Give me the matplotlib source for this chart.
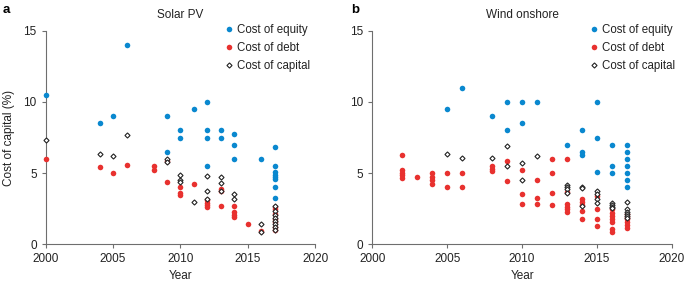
import matplotlib
matplotlib.use("Agg")
import matplotlib.pyplot as plt

plt.rcParams['font.family'] = ['Liberation Sans', 'DejaVu Sans']

# Colours
blue = '#0a88cf'
red = '#e8312f'
axis_grey = '#6e6e6e'

# Solar PV data
solar_equity_years = [2000, 2004, 2005, 2006, 2009, 2009, 2010, 2010, 2011, 2012, 2012, 2012, 2012,
                      2013, 2013, 2014, 2014, 2014, 2016,
                      2017, 2017, 2017, 2017, 2017, 2017, 2017, 2017]
solar_equity = [10.5, 8.5, 9.0, 14.0, 9.0, 6.5, 8.0, 7.5, 9.5, 10.0, 8.0, 7.5, 5.5,
                8.0, 7.5, 7.75, 7.0, 6.0, 6.0,
                6.8, 5.5, 5.05, 4.9, 4.75, 4.6, 4.0, 3.25]

solar_debt_years = [2000, 2004, 2005, 2006, 2008, 2008, 2009, 2009, 2010, 2010, 2010, 2011,
                    2012, 2012, 2012, 2012, 2013, 2013, 2013, 2014, 2014, 2014, 2014,
                    2015, 2016, 2017, 2017, 2017, 2017, 2017, 2017, 2017]
solar_debt = [6.0, 5.45, 5.0, 5.6, 5.5, 5.2, 5.85, 4.4, 4.0, 3.6, 3.45, 4.25,
              3.1, 2.9, 2.75, 2.6, 3.9, 3.75, 2.68, 2.68, 2.25, 2.05, 1.9,
              1.4, 0.95, 2.6, 2.45, 2.1, 1.8, 1.55, 1.25, 1.0]

solar_capital_years = [2000, 2004, 2005, 2006, 2009, 2009, 2010, 2010, 2010, 2011,
                       2012, 2012, 2012, 2013, 2013, 2013, 2014, 2014, 2016, 2016,
                       2017, 2017, 2017, 2017, 2017, 2017, 2017, 2017]
solar_capital = [7.35, 6.35, 6.2, 7.7, 6.0, 5.75, 4.9, 4.5, 4.35, 3.0,
                 4.8, 3.72, 3.18, 4.72, 4.28, 3.75, 3.53, 3.18, 1.45, 0.85,
                 2.7, 2.35, 2.05, 1.85, 1.65, 1.45, 1.2, 1.0]

# Wind onshore data
wind_equity_years = [2005, 2006, 2008, 2009, 2009, 2010, 2010, 2011, 2013, 2014, 2014, 2014,
                     2015, 2015, 2015, 2016, 2016, 2016,
                     2017, 2017, 2017, 2017, 2017, 2017, 2017]
wind_equity = [9.5, 11.0, 9.0, 10.0, 8.0, 10.0, 8.5, 10.0, 7.0, 8.0, 6.5, 6.3,
               10.0, 7.5, 5.1, 7.0, 5.5, 5.0,
               7.0, 6.5, 6.0, 5.5, 5.0, 4.5, 4.0]

wind_debt_years = [2002, 2002, 2002, 2002, 2002, 2003, 2004, 2004, 2004, 2004,
                   2005, 2005, 2006, 2006, 2008, 2008, 2008, 2009, 2009,
                   2010, 2010, 2010, 2011, 2011, 2011, 2012, 2012, 2012, 2012,
                   2013, 2013, 2013, 2013, 2013, 2013, 2014, 2014, 2014, 2014, 2014,
                   2015, 2015, 2015, 2015,
                   2016, 2016, 2016, 2016, 2016, 2016, 2016,
                   2017, 2017, 2017, 2017, 2017, 2017]
wind_debt = [6.3, 5.2, 5.0, 4.85, 4.65, 4.75, 5.0, 4.75, 4.5, 4.27,
             5.0, 4.0, 5.0, 4.0, 5.5, 5.3, 5.15, 5.87, 4.42,
             5.25, 3.5, 2.8, 4.5, 3.25, 2.8, 6.0, 5.0, 3.58, 2.75,
             6.0, 3.65, 2.85, 2.65, 2.45, 2.25, 3.2, 2.95, 2.75, 2.35, 1.75,
             3.4, 2.5, 1.75, 1.3,
             2.45, 2.2, 2.0, 1.8, 1.6, 1.05, 0.85,
             2.15, 1.95, 1.75, 1.55, 1.35, 1.15]

wind_capital_years = [2005, 2006, 2008, 2009, 2009, 2010, 2010, 2011,
                      2013, 2013, 2013, 2013, 2014, 2014, 2014,
                      2015, 2015, 2015, 2015, 2016, 2016, 2016, 2016,
                      2017, 2017, 2017, 2017, 2017, 2017]
wind_capital = [6.37, 6.05, 6.05, 6.93, 5.52, 5.73, 4.52, 6.18,
                4.2, 4.03, 3.86, 3.62, 4.03, 3.95, 2.72,
                3.75, 3.5, 3.2, 2.87, 2.88, 2.76, 2.64, 2.52,
                3.0, 2.47, 2.3, 2.15, 2.0, 1.87]

x_ticks = [2000, 2005, 2010, 2015, 2020]
y_ticks = [0, 5, 10, 15]

fig = plt.figure(figsize=(6.85, 2.83), dpi=100)
ax1 = fig.add_axes([0.0667, 0.1367, 0.3936, 0.7548])
ax2 = fig.add_axes([0.5436, 0.1367, 0.4372, 0.7548])

panels = [
    (ax1, 'Solar PV', solar_equity_years, solar_equity, solar_debt_years, solar_debt,
     solar_capital_years, solar_capital, 0.662),
    (ax2, 'Wind onshore', wind_equity_years, wind_equity, wind_debt_years, wind_debt,
     wind_capital_years, wind_capital, 0.724),
]

for ax, title, ey, ev, dy, dv, cy, cv, leg_x in panels:
    ax.plot(ey, ev, 'o', color=blue, markersize=4.0, markeredgewidth=0,
            label='Cost of equity', clip_on=False, zorder=3)
    ax.plot(dy, dv, 'o', color=red, markersize=4.0, markeredgewidth=0,
            label='Cost of debt', clip_on=False, zorder=4)
    ax.plot(cy, cv, 'D', markerfacecolor='white', markeredgecolor='#222222',
            markersize=2.6, markeredgewidth=0.8, label='Cost of capital',
            clip_on=False, zorder=5)

    ax.set_xlim(2000, 2020)
    ax.set_ylim(0, 15)
    ax.set_xticks(x_ticks)
    ax.set_yticks(y_ticks)
    ax.spines['top'].set_visible(False)
    ax.spines['right'].set_visible(False)
    for s in ['left', 'bottom']:
        ax.spines[s].set_color(axis_grey)
        ax.spines[s].set_linewidth(0.8)
    ax.tick_params(direction='out', length=3, width=0.8, color=axis_grey,
                   labelsize=8.5, pad=3.5, labelcolor='#222222')
    ax.set_title(title, fontsize=8.5, pad=9, color='#222222')
    ax.set_xlabel('Year', fontsize=8.5, labelpad=3, color='#222222')

    ax.legend(loc='upper left', bbox_to_anchor=(leg_x, 1.03), frameon=False,
              fontsize=8.3, handlelength=0.8, handletextpad=0.35,
              borderpad=0, borderaxespad=0, labelspacing=0.5, labelcolor='#222222')

ax1.set_ylabel('Cost of capital (%)', fontsize=8.5, labelpad=6, color='#222222')

fig.text(0.004, 0.985, 'a', fontsize=9.5, fontweight='bold', va='top', ha='left')
fig.text(0.512, 0.985, 'b', fontsize=9.5, fontweight='bold', va='top', ha='left')

fig.savefig('out.png', dpi=100)
